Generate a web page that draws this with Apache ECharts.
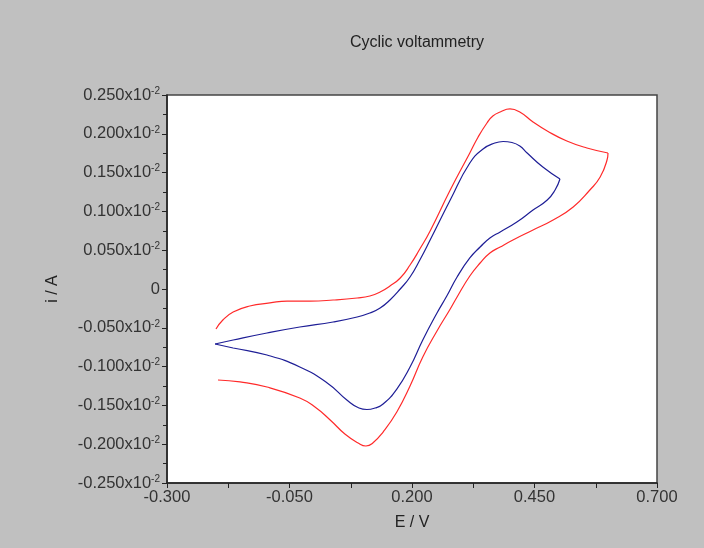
<!DOCTYPE html>
<html>
<head>
<meta charset="utf-8">
<script src="https://cdn.jsdelivr.net/npm/echarts@6/dist/echarts.min.js"></script>
<style>
html,body{margin:0;padding:0;background:#c0c0c0;}
#chart{width:704px;height:548px;}
</style>
</head>
<body>
<div id="chart"></div>
<script>
// Potential E (V) and current i (in units of 10^-2 A)
const redE = [-0.200,-0.186,-0.165,-0.131,-0.090,-0.055,-0.008,0.039,0.088,0.114,0.135,0.155,0.176,0.196,0.216,0.237,0.278,0.318,0.335,0.353,0.365,0.380,0.400,0.420,0.447,0.476,0.516,0.557,0.600,0.598,0.584,0.563,0.529,0.488,0.447,0.406,0.380,0.359,0.339,0.318,0.292,0.278,0.251,0.222,0.196,0.169,0.141,0.120,0.106,0.090,0.063,0.033,0.002,-0.029,-0.096,-0.151,-0.196];
const redI = [-0.0515,-0.0400,-0.0296,-0.0219,-0.0180,-0.0155,-0.0155,-0.0142,-0.0116,-0.0090,-0.0039,0.0039,0.0142,0.0309,0.0515,0.0747,0.1276,0.1753,0.1959,0.2139,0.2229,0.2281,0.2320,0.2281,0.2152,0.2036,0.1907,0.1817,0.1753,0.1662,0.1443,0.1276,0.1057,0.0889,0.0760,0.0631,0.0541,0.0464,0.0335,0.0168,-0.0103,-0.0258,-0.0541,-0.0876,-0.1250,-0.1585,-0.1843,-0.1985,-0.2023,-0.1985,-0.1869,-0.1688,-0.1521,-0.1405,-0.1263,-0.1198,-0.1173];
const redVertex = 28;
const blueE = [-0.202,-0.165,-0.096,-0.029,0.039,0.088,0.114,0.135,0.155,0.176,0.196,0.216,0.237,0.278,0.318,0.345,0.369,0.386,0.404,0.420,0.435,0.467,0.502,0.492,0.476,0.447,0.414,0.380,0.359,0.339,0.318,0.292,0.271,0.251,0.222,0.196,0.169,0.141,0.1245,0.108,0.0918,0.067,0.027,-0.029,-0.096,-0.165,-0.202];
const blueI = [-0.0709,-0.0657,-0.0567,-0.0490,-0.0425,-0.0361,-0.0309,-0.0245,-0.0142,0.0000,0.0155,0.0374,0.0631,0.1147,0.1624,0.1804,0.1881,0.1901,0.1888,0.1843,0.1753,0.1572,0.1418,0.1276,0.1147,0.1018,0.0863,0.0735,0.0657,0.0541,0.0400,0.0155,-0.0090,-0.0309,-0.0657,-0.1005,-0.1289,-0.1482,-0.1534,-0.1553,-0.1534,-0.1430,-0.1211,-0.1005,-0.0851,-0.0760,-0.0709];
const blueVertex = 22;
const xTicks = {min:-0.3, max:0.7, step:0.25};
const yTicks = {min:-0.25, max:0.25, step:0.05};
const titleText = 'Cyclic voltammetry';
const xName = 'E / V';
const yName = 'i / A';

const zip = (a,b) => a.map((v,i)=>[v,b[i]]);
const redPts = zip(redE,redI), bluePts = zip(blueE,blueI);
const chart = echarts.init(document.getElementById('chart'));
const font = 'Liberation Sans, Arial, sans-serif';
const red = {color:'#ff2a2a',width:1.2}, blue = {color:'#1e1e96',width:1.2};
const line = (data, style) => ({type:'line',data,smooth:0.5,showSymbol:false,lineStyle:style});
chart.setOption({
  backgroundColor:'#c0c0c0',
  animation:false,
  title:{text:titleText,left:412,top:30,textAlign:'center',textStyle:{fontFamily:font,fontSize:16,fontWeight:'normal',color:'#222'}},
  grid:{left:167,top:95,width:490,height:388,show:true,backgroundColor:'#fff',borderColor:'#444',borderWidth:1.5},
  xAxis:{type:'value',min:xTicks.min,max:xTicks.max,interval:xTicks.step,
    name:xName,nameLocation:'middle',nameGap:32,nameTextStyle:{fontFamily:font,fontSize:16,color:'#222'},
    axisLine:{onZero:false,lineStyle:{color:'#222',width:1.5}},
    axisTick:{show:true,length:5,lineStyle:{color:'#222'}},
    minorTick:{show:true,splitNumber:2,length:5,lineStyle:{color:'#222'}},
    splitLine:{show:false},
    axisLabel:{fontFamily:font,fontSize:16.5,color:'#333',margin:6,formatter:v=>v.toFixed(3)}},
  yAxis:{type:'value',min:yTicks.min,max:yTicks.max,interval:yTicks.step,
    name:yName,nameLocation:'middle',nameGap:106,nameTextStyle:{fontFamily:font,fontSize:16,color:'#222'},
    axisLine:{onZero:false,lineStyle:{color:'#222',width:1.5}},
    axisTick:{show:true,length:5,lineStyle:{color:'#222'}},
    minorTick:{show:true,splitNumber:2,length:4,lineStyle:{color:'#222'}},
    splitLine:{show:false},
    axisLabel:{fontFamily:font,fontSize:16.5,color:'#333',margin:7,
      formatter:v=>Math.abs(v)<1e-9?'0':v.toFixed(3)+'x10{sup|-2}',
      rich:{sup:{fontFamily:font,fontSize:10,color:'#333',verticalAlign:'top',padding:[0,0,8,0]}}}},
  series:[
    line(redPts.slice(0,redVertex+1), red),
    line(redPts.slice(redVertex), red),
    line(bluePts.slice(0,blueVertex+1), blue),
    line(bluePts.slice(blueVertex), blue)
  ]
});
</script>
</body>
</html>
